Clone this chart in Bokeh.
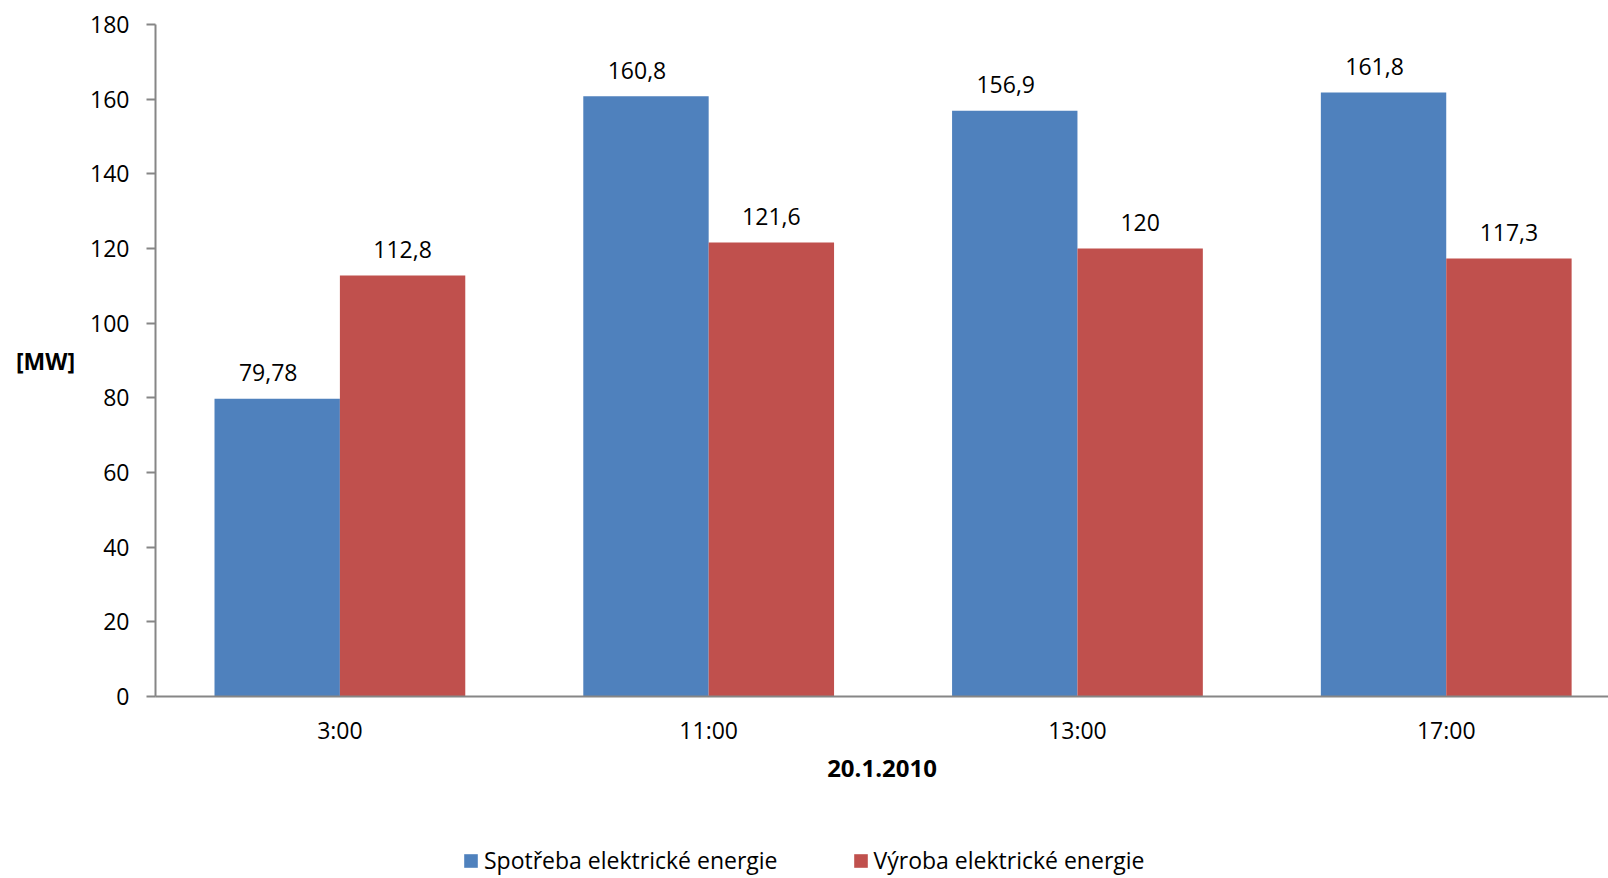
from bokeh.plotting import figure
from bokeh.layouts import column
from bokeh.models import ColumnDataSource, Range1d, FixedTicker, LabelSet, Legend, LegendItem
from bokeh.core.properties import value
from bokeh.embed import file_html
from bokeh.resources import INLINE

categories = ["3:00", "11:00", "13:00", "17:00"]
spotreba = [79.78, 160.8, 156.9, 161.8]
vyroba = [112.8, 121.6, 120, 117.3]
series_names = ["Spotřeba elektrické energie", "Výroba elektrické energie"]
y_ticks = [0, 20, 40, 60, 80, 100, 120, 140, 160, 180]
x_title = "20.1.2010"
y_title = "[MW]"

BLUE = "#4F81BD"
RED = "#C0504D"
AXIS = "#868686"
FONT = "Open Sans"

pos = [i + 0.5 for i in range(len(categories))]
fmt = lambda v: f"{v:g}".replace(".", ",")

src_a = ColumnDataSource(dict(x=[p_ - 0.17 for p_ in pos], top=spotreba, lab=[fmt(v) for v in spotreba]))
src_b = ColumnDataSource(dict(x=[p_ + 0.17 for p_ in pos], top=vyroba, lab=[fmt(v) for v in vyroba]))

p = figure(width=1608, height=800, output_backend="svg", toolbar_location=None,
           x_range=Range1d(0, 3.94), y_range=Range1d(0, 180))
p.min_border_left = 155
p.min_border_right = 0
p.min_border_top = 24
p.min_border_bottom = 104
p.outline_line_color = None
p.grid.visible = False
p.background_fill_color = "white"
p.border_fill_color = "white"

ra = p.vbar(x="x", top="top", width=0.34, source=src_a, fill_color=BLUE, line_color=None)
rb = p.vbar(x="x", top="top", width=0.34, source=src_b, fill_color=RED, line_color=None)

for src, xo in ((src_a, -9), (src_b, 0)):
    ls = LabelSet(x="x", y="top", text="lab", source=src, x_offset=xo, y_offset=26,
                  text_align="center", text_baseline="middle",
                  text_font=value(FONT), text_font_size=value("23px"), text_color="black")
    p.add_layout(ls)

# y axis
ya = p.yaxis[0]
ya.ticker = FixedTicker(ticks=y_ticks)
ya.axis_line_color = AXIS
ya.axis_line_width = 2
ya.major_tick_line_color = AXIS
ya.major_tick_line_width = 2
ya.major_tick_in = 0
ya.major_tick_out = 9
ya.minor_tick_line_color = None
ya.major_label_standoff = 17
ya.major_label_text_font = FONT
ya.major_label_text_font_size = "23px"
ya.major_label_text_color = "black"
ya.axis_label = y_title
ya.axis_label_orientation = "horizontal"
ya.axis_label_standoff = 12
ya.axis_label_text_font = FONT
ya.axis_label_text_font_size = "23px"
ya.axis_label_text_font_style = "bold"
ya.axis_label_text_color = "black"

# x axis
xa = p.xaxis[0]
xa.ticker = FixedTicker(ticks=pos)
xa.major_label_overrides = {pv: c for pv, c in zip(pos, categories)}
xa.axis_line_color = AXIS
xa.axis_line_width = 2
xa.major_tick_line_color = None
xa.minor_tick_line_color = None
xa.major_label_standoff = 11
xa.major_label_text_font = FONT
xa.major_label_text_font_size = "23px"
xa.major_label_text_color = "black"
xa.axis_label = x_title
xa.axis_label_standoff = 11
xa.axis_label_text_font = FONT
xa.axis_label_text_font_size = "24px"
xa.axis_label_text_font_style = "bold"
xa.axis_label_text_color = "black"

# legend strip below the chart (its frame is aligned with the chart frame)
q = figure(width=1608, height=78, output_backend="svg", toolbar_location=None,
           x_range=Range1d(0, 1), y_range=Range1d(0, 1),
           min_border_left=0, min_border_right=0, min_border_top=0, min_border_bottom=0)
q.axis.visible = False
q.grid.visible = False
q.outline_line_color = None
# swatch renderers kept outside the visible range; only their legend glyphs show
la = q.vbar(x=[5], top=[1], width=0.1, fill_color=BLUE, line_color=None)
lb = q.vbar(x=[5], top=[1], width=0.1, fill_color=RED, line_color=None)
legend = Legend(items=[LegendItem(label=series_names[0], renderers=[la]),
                       LegendItem(label=series_names[1], renderers=[lb])],
                location=(307, 2), orientation="horizontal",
                padding=0, margin=0, spacing=74, border_line_color=None,
                background_fill_alpha=0, glyph_width=17, glyph_height=17,
                label_standoff=5, label_text_font=FONT, label_text_font_size="23px",
                label_text_color="black")
q.add_layout(legend, "center")

layout = column(p, q, spacing=0)
open("out.html", "w").write(file_html(layout, INLINE))
